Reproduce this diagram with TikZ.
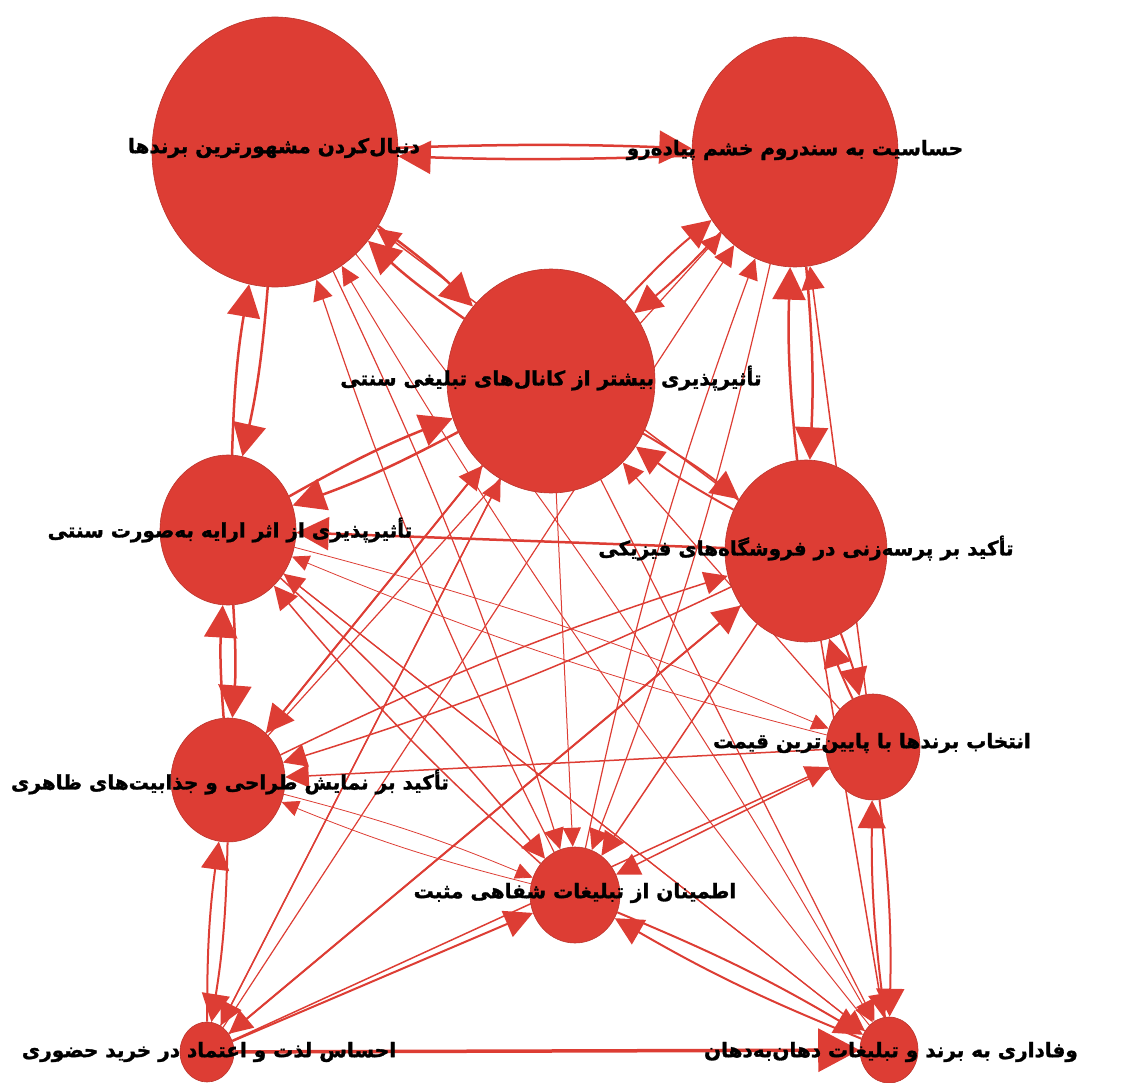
\documentclass[tikz,border=0pt]{standalone}
\usepackage{fontspec}
\newfontfamily\fa[Script=Arabic,BoldFont={DejaVu Sans Bold},BoldFeatures={FakeBold=1.5}]{DejaVu Sans}
\TeXXeTstate=1
\usetikzlibrary{arrows.meta,shapes.geometric}
\definecolor{nodered}{RGB}{221,61,52}
\pgfdeclarelayer{edges}
\pgfsetlayers{edges,main}

\begin{document}
\begin{tikzpicture}[x=1pt,y=-1pt,
  vtx/.style={ellipse,fill=nodered,draw=nodered!85!black,line width=0.6pt,inner sep=0},
  lbl/.style={font=\fa\bfseries\fontsize{20}{24}\selectfont,inner sep=0},
  edge/.style={draw=nodered,line width=#1,-{Triangle[length=10pt 9,width=8pt 10]}},
  mut/.style={edge=#1,bend left=4}]
\useasboundingbox (0,0) rectangle (1137,1083);

% ---- vertices
\node[vtx,minimum width=246pt,minimum height=270pt] (A) at (275,152) {};
\node[vtx,minimum width=206pt,minimum height=230pt] (B) at (795,152) {};
\node[vtx,minimum width=208pt,minimum height=224pt] (C) at (551,381) {};
\node[vtx,minimum width=136pt,minimum height=150pt] (D) at (228,530) {};
\node[vtx,minimum width=162pt,minimum height=182pt] (E) at (806,551) {};
\node[vtx,minimum width=114pt,minimum height=124pt] (F) at (228,780) {};
\node[vtx,minimum width=94pt,minimum height=106pt] (G) at (873,747) {};
\node[vtx,minimum width=90pt,minimum height=96pt] (H) at (575,895) {};
\node[vtx,minimum width=54pt,minimum height=60pt] (I) at (207,1052) {};
\node[vtx,minimum width=58pt,minimum height=66pt] (J) at (889,1050) {};

% ---- edges, under the vertices
\begin{pgfonlayer}{edges}
% mutual pairs
\draw[mut=2.5pt,bend left=2] (A) to (B);
\draw[mut=2.5pt,bend left=2] (B) to (A);
\draw[mut=2.5pt] (A) to (C);
\draw[mut=2.5pt] (C) to (A);
\draw[mut=2.5pt] (A) to (D);
\draw[mut=2.5pt] (D) to (A);
\draw[mut=1.2pt] (A) to (H);
\draw[mut=1.2pt] (H) to (A);
\draw[mut=1pt] (A) to (J);
\draw[mut=1pt] (J) to (A);
\draw[mut=2pt] (B) to (C);
\draw[mut=2pt] (C) to (B);
\draw[mut=2.5pt] (B) to (E);
\draw[mut=2.5pt] (E) to (B);
\draw[mut=1.2pt] (B) to (H);
\draw[mut=1.2pt] (H) to (B);
\draw[mut=2.5pt] (C) to (D);
\draw[mut=2.5pt] (D) to (C);
\draw[mut=2pt] (C) to (E);
\draw[mut=2pt] (E) to (C);
\draw[mut=2.5pt] (D) to (F);
\draw[mut=2.5pt] (F) to (D);
\draw[mut=1.5pt] (D) to (H);
\draw[mut=1.5pt] (H) to (D);
\draw[mut=0.8pt] (D) to (G);
\draw[mut=0.8pt] (G) to (D);
\draw[mut=1.5pt] (E) to (F);
\draw[mut=1.5pt] (F) to (E);
\draw[mut=2pt] (E) to (G);
\draw[mut=2pt] (G) to (E);
\draw[mut=0.8pt] (F) to (H);
\draw[mut=0.8pt] (H) to (F);
\draw[mut=2pt] (F) to (I);
\draw[mut=2pt] (I) to (F);
\draw[mut=2pt] (G) to (J);
\draw[mut=2pt] (J) to (G);
\draw[mut=2pt] (H) to (J);
\draw[mut=2pt] (J) to (H);
% one-way
\draw[edge=1.5pt] (E) -- (A);
\draw[edge=1.2pt] (I) -- (B);
\draw[edge=1.2pt] (F) -- (B);
\draw[edge=1.5pt] (G) -- (B);
\draw[edge=2.5pt] (E) -- (D);
\draw[edge=2pt] (C) -- (F);
\draw[edge=1.5pt] (G) -- (F);
\draw[edge=1.2pt] (I) -- (C);
\draw[edge=1.5pt] (F) -- (C);
\draw[edge=1.2pt] (G) -- (C);
\draw[edge=1pt] (C) -- (H);
\draw[edge=1.5pt] (E) -- (H);
\draw[edge=1.5pt] (G) -- (H);
\draw[edge=2pt] (I) -- (H);
\draw[edge=3.5pt] (I) -- (J);
\draw[edge=1.2pt] (J) -- (D);
\draw[edge=2pt] (I) -- (E);
\draw[edge=1.5pt] (C) -- (I);
\draw[edge=1.5pt] (E) -- (I);
\draw[edge=1.5pt] (I) -- (G);
\draw[edge=1.2pt] (C) -- (J);
\draw[edge=1.5pt] (E) -- (J);
\draw[edge=1.2pt] (D) -- (J);
\end{pgfonlayer}

% ---- labels, on top
\node[lbl] (A-t) at (274,148) {\beginR دنبال‌کردن مشهورترین برندها\endR};
\node[lbl] (B-t) at (795,150) {\beginR حساسیت به سندروم خشم پیاده‌رو\endR};
\node[lbl] (C-t) at (551,378) {\beginR تأثیرپذیری بیشتر از کانال‌های تبلیغی سنتی\endR};
\node[lbl] (D-t) at (230,530) {\beginR تأثیرپذیری از اثر ارایه به‌صورت سنتی\endR};
\node[lbl] (E-t) at (806,548) {\beginR تأکید بر پرسه‌زنی در فروشگاه‌های فیزیکی\endR};
\node[lbl] (F-t) at (230,782) {\beginR تأکید بر نمایش طراحی و جذابیت‌های ظاهری\endR};
\node[lbl] (G-t) at (872,743) {\beginR انتخاب برندها با پایین‌ترین قیمت\endR};
\node[lbl] (H-t) at (575,893) {\beginR اطمینان از تبلیغات شفاهی مثبت\endR};
\node[lbl] (I-t) at (209,1052) {\beginR احساس لذت و اعتماد در خرید حضوری\endR};
\node[lbl] (J-t) at (891,1052) {\beginR وفاداری به برند و تبلیغات دهان‌به‌دهان\endR};
\end{tikzpicture}
\end{document}
